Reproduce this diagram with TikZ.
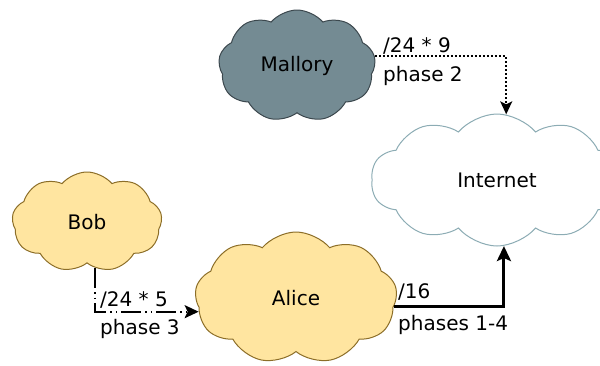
\documentclass[tikz,border=0pt]{standalone}
\usepackage{fontspec}
\setmainfont{DejaVu Sans}
\usetikzlibrary{shapes.symbols,arrows.meta}
\definecolor{malfill}{RGB}{116,139,147}
\definecolor{malline}{RGB}{60,72,78}
\definecolor{warmfill}{RGB}{255,229,160}
\definecolor{warmline}{RGB}{140,110,40}
\definecolor{netline}{RGB}{140,172,180}
\begin{document}
\begin{tikzpicture}[x=1pt,y=-1pt,
  cl/.style={cloud, cloud puffs=9, cloud puff arc=100, cloud ignores aspect, draw, inner sep=0pt, line width=1pt, font=\fontsize{20}{24}\selectfont},
  lbl/.style={font=\fontsize{20}{24}\selectfont, inner sep=0pt},
  conn/.style={draw=black}]
\useasboundingbox (0,0) rectangle (600,365);
\node[cl, fill=malfill, draw=malline, minimum width=157pt, minimum height=112pt] (mallory) at (297,66) {Mallory};
\node[cl, cloud puffs=10, fill=white, draw=netline, minimum width=252pt, minimum height=132pt] (internet) at (497,180) {Internet};
\node[cl, fill=warmfill, draw=warmline, minimum width=150pt, minimum height=100pt] (bob) at (87,222) {Bob};
\node[cl, fill=warmfill, draw=warmline, minimum width=202pt, minimum height=132pt] (alice) at (296,298) {Alice};
\draw[conn, line width=2pt, dash pattern=on 2pt off 2pt, -{Stealth[length=13pt,width=12pt,inset=3pt]}] (mallory.7) -| (internet.82);
\draw[conn, line width=3pt, -{Stealth[length=15pt,width=14pt,inset=3pt]}] (alice.355) -| (internet.276);
\draw[conn, line width=2pt, dash pattern=on 20pt off 4pt on 1.5pt off 4pt on 1.5pt off 4pt, -{Stealth[length=14pt,width=13pt,inset=3pt]}] (bob.280) |- (alice.188);
\node[lbl, anchor=base west] (m1) at (383,52) {/24 * 9};
\node[lbl, anchor=base west] (m2) at (383,81) {phase 2};
\node[lbl, anchor=base west] (a1) at (398,298) {/16};
\node[lbl, anchor=base west] (a2) at (398,330) {phases 1-4};
\node[lbl, anchor=base west] (b1) at (100,306) {/24 * 5};
\node[lbl, anchor=base west] (b2) at (100,334) {phase 3};
\end{tikzpicture}
\end{document}
